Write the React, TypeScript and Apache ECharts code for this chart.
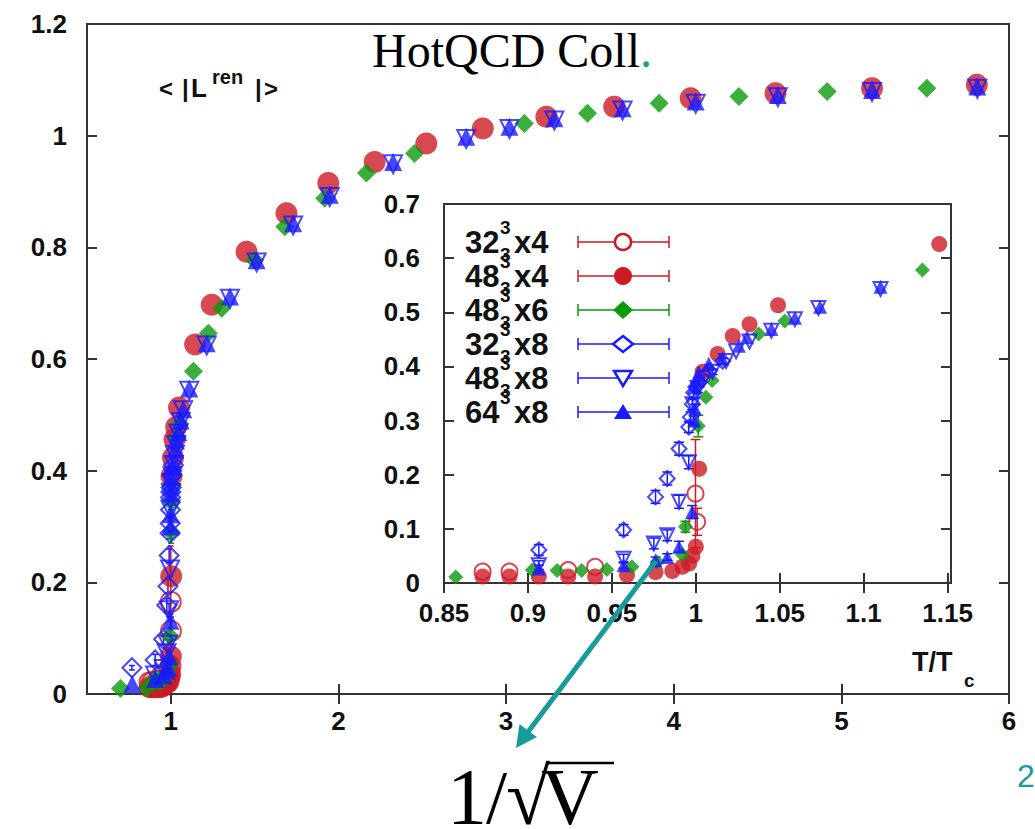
import React, { useEffect, useRef } from 'react';
import * as echarts from 'echarts';

type Pt = [number, number, number]; // [T/Tc, <|L|>, error]

// ---------- data ----------
const mainXTicks = [1, 2, 3, 4, 5, 6];
const insetXTicks = [0.85, 0.9, 0.95, 1, 1.05, 1.1, 1.15];
const legendLabels: [string, string][] = [
  ['32', 'x4'], ['48', 'x4'], ['48', 'x6'], ['32', 'x8'], ['48', 'x8'], ['64', 'x8'],
];

const d32x4: Pt[] = [
  [0.873, 0.021, 0], [0.889, 0.021, 0], [0.924, 0.024, 0], [0.94, 0.03, 0],
  [0.9998, 0.165, 0.1], [1.0008, 0.113, 0.025],
];
const d48x4: Pt[] = [
  [0.873, 0.012, 0], [0.889, 0.012, 0], [0.9065, 0.012, 0], [0.924, 0.012, 0], [0.94, 0.012, 0],
  [0.959, 0.015, 0], [0.976, 0.02, 0], [0.986, 0.022, 0], [0.992, 0.03, 0], [0.996, 0.036, 0],
  [0.998, 0.05, 0], [1.0, 0.067, 0], [1.002, 0.211, 0], [1.004, 0.39, 0], [1.013, 0.423, 0],
  [1.022, 0.456, 0], [1.032, 0.478, 0], [1.049, 0.513, 0], [1.145, 0.626, 0], [1.244, 0.697, 0],
  [1.452, 0.792, 0], [1.69, 0.861, 0], [1.939, 0.915, 0], [2.216, 0.953, 0], [2.524, 0.986, 0],
  [2.861, 1.013, 0], [3.24, 1.034, 0], [3.645, 1.052, 0], [4.101, 1.067, 0], [4.607, 1.076, 0],
  [5.183, 1.085, 0], [5.808, 1.091, 0],
];
const d48x6: Pt[] = [
  [0.7, 0.01, 0], [0.857, 0.011, 0], [0.9026, 0.024, 0], [0.9174, 0.023, 0], [0.932, 0.023, 0],
  [0.947, 0.025, 0], [0.962, 0.03, 0], [0.977, 0.039, 0], [0.992, 0.052, 0], [0.9938, 0.104, 0.01],
  [1.0015, 0.29, 0.02], [1.006, 0.343, 0], [1.0097, 0.374, 0], [1.0375, 0.46, 0], [1.053, 0.484, 0],
  [1.135, 0.578, 0], [1.224, 0.646, 0], [1.304, 0.691, 0], [1.5, 0.777, 0], [1.68, 0.837, 0],
  [1.918, 0.888, 0], [2.167, 0.933, 0], [2.454, 0.968, 0], [3.109, 1.022, 0], [3.486, 1.04, 0],
  [3.913, 1.058, 0], [4.389, 1.07, 0], [4.915, 1.079, 0], [5.51, 1.085, 0],
];
const d32x8: Pt[] = [
  [0.768, 0.047, 0.004], [0.9065, 0.061, 0.01], [0.957, 0.098, 0.01], [0.976, 0.159, 0.012],
  [0.983, 0.193, 0.012], [0.99, 0.248, 0.012], [0.9958, 0.288, 0.01], [0.9968, 0.306, 0.01],
  [0.998, 0.33, 0.01], [0.9988, 0.352, 0.01], [1.0, 0.362, 0.008], [1.002, 0.37, 0.008],
  [1.008, 0.392, 0.006], [1.016, 0.41, 0.005],
];
const d48x8: Pt[] = [
  [0.9065, 0.033, 0.008], [0.957, 0.045, 0.008], [0.975, 0.073, 0.01], [0.983, 0.088, 0.01],
  [0.99, 0.15, 0.012], [0.9958, 0.223, 0.012], [0.998, 0.33, 0.01], [1.001, 0.36, 0.008],
  [1.005, 0.378, 0.006], [1.01, 0.39, 0.005], [1.018, 0.41, 0], [1.024, 0.428, 0],
  [1.032, 0.446, 0], [1.045, 0.466, 0], [1.059, 0.487, 0], [1.073, 0.508, 0], [1.11, 0.543, 0],
  [1.214, 0.624, 0], [1.353, 0.708, 0], [1.512, 0.773, 0], [1.73, 0.839, 0], [1.948, 0.89, 0],
  [2.326, 0.949, 0], [2.762, 0.994, 0], [3.02, 1.012, 0], [3.288, 1.027, 0], [3.695, 1.045, 0],
  [4.131, 1.057, 0], [4.621, 1.069, 0], [5.183, 1.078, 0], [5.811, 1.084, 0],
];
const d64x8: Pt[] = [
  [0.77, 0.018, 0], [0.9065, 0.027, 0.006], [0.957, 0.033, 0.006], [0.976, 0.042, 0.006],
  [0.983, 0.048, 0.006], [0.99, 0.067, 0.01], [0.9978, 0.131, 0.012], [0.999, 0.3, 0.008],
  [0.9995, 0.322, 0.008], [0.9988, 0.361, 0], [1.0, 0.374, 0], [1.0018, 0.389, 0],
  [1.0077, 0.405, 0], [1.0157, 0.414, 0], [1.0256, 0.438, 0], [1.0305, 0.454, 0],
  [1.045, 0.469, 0], [1.059, 0.49, 0], [1.074, 0.51, 0], [1.11, 0.547, 0],
  [1.214, 0.628, 0], [1.353, 0.712, 0], [1.512, 0.777, 0], [1.73, 0.843, 0], [1.948, 0.894, 0],
  [2.326, 0.953, 0], [2.762, 0.998, 0], [3.02, 1.016, 0], [3.288, 1.031, 0], [3.695, 1.049, 0],
  [4.131, 1.061, 0], [4.621, 1.073, 0], [5.183, 1.082, 0], [5.811, 1.088, 0],
];

// ---------- styles ----------
const RED = '#cd1a24';
const GREEN = '#0b9a0b';
const BLUE = '#1a1aff';
const TEAL = '#179b9b';
const INK = '#111111';
const FRAME = '#333333';
const SANS = '"Liberation Sans", Arial, sans-serif';
const SERIF = '"Liberation Serif", "Times New Roman", serif';

const defs = [
  { data: d32x4, color: RED, symbol: 'circle', hollow: true, rot: 0, main: 20, inset: 16 },
  { data: d48x4, color: RED, symbol: 'circle', hollow: false, rot: 0, main: 22, inset: 16 },
  { data: d48x6, color: GREEN, symbol: 'diamond', hollow: false, rot: 0, main: 19, inset: 15 },
  { data: d32x8, color: BLUE, symbol: 'diamond', hollow: true, rot: 0, main: 19, inset: 15 },
  { data: d48x8, color: BLUE, symbol: 'triangle', hollow: true, rot: 180, main: 18, inset: 14 },
  { data: d64x8, color: BLUE, symbol: 'triangle', hollow: false, rot: 0, main: 18, inset: 14 },
];

const MAIN = { left: 87, top: 24, width: 922, height: 670 };
const INSET = { left: 444, top: 204, width: 507, height: 379 };

function errSeries(data: Pt[], color: string, axis: number, cap: number) {
  return {
    type: 'custom',
    xAxisIndex: axis,
    yAxisIndex: axis,
    silent: true,
    clip: true,
    data: data.filter((d) => d[2] > 0),
    encode: { x: 0, y: 1 },
    renderItem: (_p: any, api: any) => {
      const x = api.value(0);
      const y = api.value(1);
      const e = api.value(2);
      const a = api.coord([x, y + e]);
      const b = api.coord([x, y - e]);
      const st = { stroke: color, lineWidth: 1.5 };
      return {
        type: 'group',
        children: [
          { type: 'line', shape: { x1: a[0], y1: a[1], x2: b[0], y2: b[1] }, style: st },
          { type: 'line', shape: { x1: a[0] - cap, y1: a[1], x2: a[0] + cap, y2: a[1] }, style: st },
          { type: 'line', shape: { x1: b[0] - cap, y1: b[1], x2: b[0] + cap, y2: b[1] }, style: st },
        ],
      };
    },
  };
}

function scatter(def: any, axis: number, size: number, data: Pt[]) {
  return {
    type: 'scatter',
    xAxisIndex: axis,
    yAxisIndex: axis,
    data: data.map((d) => [d[0], d[1]]),
    symbol: def.symbol,
    symbolRotate: def.rot,
    symbolSize: size,
    clip: true,
    itemStyle: def.hollow
      ? { color: 'rgba(255,255,255,0)', borderColor: def.color, borderWidth: 2 }
      : { color: def.color, borderWidth: 0 },
  };
}

function fmt(v: number) {
  return String(+(+v).toFixed(2));
}

function txt(text: string, x: number, y: number, font: string, fill = INK, align = 'left', lineHeight?: number) {
  const style: any = { text, x, y, font, fill, align, verticalAlign: 'middle', textAlign: align, textVerticalAlign: 'middle' };
  if (lineHeight) style.lineHeight = lineHeight;
  return { type: 'text', z: 100, style };
}

function buildLegend() {
  const els: any[] = [];
  legendLabels.forEach(([a, b], i) => {
    const y = 242 + i * 34;
    const def = defs[i];
    const f = `bold 31px ${SANS}`;
    els.push(txt(a, 465, y, f, INK, 'left', 24));
    els.push(txt('3', 500, y - 15, `bold 19px ${SANS}`, INK, 'left', 10));
    if (i < 5) els.push(txt('3', 500, y + 12, `bold 19px ${SANS}`, INK, 'left', 10));
    els.push(txt(b, 514, y, f, INK, 'left', 24));
    const ls = { stroke: def.color, lineWidth: 1.5 };
    els.push({ type: 'line', shape: { x1: 578, y1: y, x2: 669, y2: y }, style: ls });
    els.push({ type: 'line', shape: { x1: 578, y1: y - 6, x2: 578, y2: y + 6 }, style: ls });
    els.push({ type: 'line', shape: { x1: 669, y1: y - 6, x2: 669, y2: y + 6 }, style: ls });
    const cx = 623;
    const fill = def.hollow ? '#ffffff' : def.color;
    const stroke = def.color;
    const lw = def.hollow ? 2.5 : 0;
    if (def.symbol === 'circle') {
      els.push({ type: 'circle', shape: { cx, cy: y, r: def.hollow ? 8 : 9 }, style: { fill, stroke, lineWidth: lw } });
    } else if (def.symbol === 'diamond') {
      const h = def.hollow ? 8 : 9;
      els.push({ type: 'polygon', shape: { points: [[cx, y - h], [cx + 10, y], [cx, y + h], [cx - 10, y]] }, style: { fill, stroke, lineWidth: lw } });
    } else if (def.rot === 180) {
      els.push({ type: 'polygon', shape: { points: [[cx - 9, y - 7], [cx + 9, y - 7], [cx, y + 8]] }, style: { fill, stroke, lineWidth: lw } });
    } else {
      els.push({ type: 'polygon', shape: { points: [[cx - 9, y + 7], [cx + 9, y + 7], [cx, y - 8]] }, style: { fill, stroke, lineWidth: lw } });
    }
  });
  return els;
}

export default function App() {
  const ref = useRef<HTMLDivElement>(null);

  useEffect(() => {
    if (!ref.current) return;
    const chart = echarts.init(ref.current, undefined, { renderer: 'svg' });

    const tick = { show: true, inside: true, length: 10, lineStyle: { color: FRAME, width: 2 } };
    const mainLabel = { fontFamily: SANS, fontWeight: 'bold', fontSize: 26, color: INK };
    const insetLabel = { fontFamily: SANS, fontWeight: 'bold', fontSize: 26, color: INK };

    const series: any[] = [];
    defs.forEach((def) => {
      series.push(errSeries(def.data, def.color, 0, 3));
      series.push(scatter(def, 0, def.main, def.data));
    });
    defs.forEach((def) => {
      const inData = def.data.filter((d) => d[0] >= 0.85 && d[0] <= 1.152);
      series.push(errSeries(inData, def.color, 2, 5));
      series.push(scatter(def, 2, def.inset, inData));
    });

    const option: any = {
      animation: false,
      backgroundColor: '#ffffff',
      grid: [
        { ...MAIN, show: true, borderColor: FRAME, borderWidth: 2, backgroundColor: 'transparent', containLabel: false },
        { ...INSET, show: true, borderColor: FRAME, borderWidth: 2, backgroundColor: 'transparent', containLabel: false },
      ],
      xAxis: [
        {
          type: 'value', gridIndex: 0, min: 0.5, max: 6, position: 'bottom',
          axisLine: { show: false }, splitLine: { show: false },
          axisTick: { ...tick, customValues: mainXTicks },
          axisLabel: { ...mainLabel, margin: 14, customValues: mainXTicks, formatter: (v: number) => fmt(v) },
        },
        {
          type: 'value', gridIndex: 0, min: 0.5, max: 6, position: 'top',
          axisLine: { show: false }, splitLine: { show: false },
          axisTick: { ...tick, customValues: mainXTicks },
          axisLabel: { show: false },
        },
        {
          type: 'value', gridIndex: 1, min: 0.85, max: 1.152, position: 'bottom',
          axisLine: { show: false }, splitLine: { show: false },
          axisTick: { ...tick, customValues: insetXTicks },
          axisLabel: { ...insetLabel, margin: 17, customValues: insetXTicks, formatter: (v: number) => fmt(v) },
        },
        {
          type: 'value', gridIndex: 1, min: 0.85, max: 1.152, position: 'top',
          axisLine: { show: false }, splitLine: { show: false },
          axisTick: { ...tick, customValues: insetXTicks },
          axisLabel: { show: false },
        },
      ],
      yAxis: [
        {
          type: 'value', gridIndex: 0, min: 0, max: 1.2, interval: 0.2, position: 'left',
          axisLine: { show: false }, splitLine: { show: false }, axisTick: tick,
          axisLabel: { ...mainLabel, margin: 20, formatter: (v: number) => fmt(v) },
        },
        {
          type: 'value', gridIndex: 0, min: 0, max: 1.2, interval: 0.2, position: 'right',
          axisLine: { show: false }, splitLine: { show: false }, axisTick: tick,
          axisLabel: { show: false },
        },
        {
          type: 'value', gridIndex: 1, min: 0, max: 0.7, interval: 0.1, position: 'left',
          axisLine: { show: false }, splitLine: { show: false }, axisTick: tick,
          axisLabel: { ...insetLabel, margin: 24, formatter: (v: number) => fmt(v) },
        },
        {
          type: 'value', gridIndex: 1, min: 0, max: 0.7, interval: 0.1, position: 'right',
          axisLine: { show: false }, splitLine: { show: false }, axisTick: tick,
          axisLabel: { show: false },
        },
      ],
      series,
      graphic: [
        txt('HotQCD Coll', 372, 50, `48px ${SERIF}`, '#000000'),
        txt('.', 640, 50, `48px ${SERIF}`, TEAL),
        txt('<', 159, 88, `bold 24px ${SANS}`),
        txt('|', 182, 88, `bold 24px ${SANS}`),
        txt('L', 191, 88, `bold 26px ${SANS}`),
        txt('ren', 212, 77, `bold 20px ${SANS}`),
        txt('|', 255, 88, `bold 24px ${SANS}`),
        txt('>', 264, 88, `bold 24px ${SANS}`),
        txt('T/T', 912, 662, `bold 27px ${SANS}`),
        txt('c', 964, 680, `bold 19px ${SANS}`),
        ...buildLegend(),
        {
          type: 'line', z: 100,
          shape: { x1: 656, y1: 561, x2: 525, y2: 736 },
          style: { stroke: TEAL, lineWidth: 5 },
        },
        {
          type: 'polygon', z: 100,
          shape: { points: [[516, 748], [519.5, 724], [528.5, 731], [537, 737]] },
          style: { fill: TEAL },
        },
        txt('1', 447, 797, `80px ${SERIF}`, '#000000', 'left', 58),
        txt('/', 486, 797, `76px ${SERIF}`, '#000000', 'left', 58),
        txt('√', 506, 797, `80px ${SERIF}`, '#000000', 'left', 58),
        txt('V', 541, 797, `80px ${SERIF}`, '#000000', 'left', 58),
        { type: 'line', z: 100, shape: { x1: 546, y1: 763, x2: 614, y2: 763 }, style: { stroke: '#000', lineWidth: 2.5 } },
        txt('2', 1017, 776, `32px ${SANS}`, TEAL),
      ],
    };

    chart.setOption(option);
    return () => chart.dispose();
  }, []);

  return (
    <div
      ref={ref}
      style={{ position: 'fixed', left: 0, top: 0, width: 1035, height: 829, background: '#fff' }}
    />
  );
}
